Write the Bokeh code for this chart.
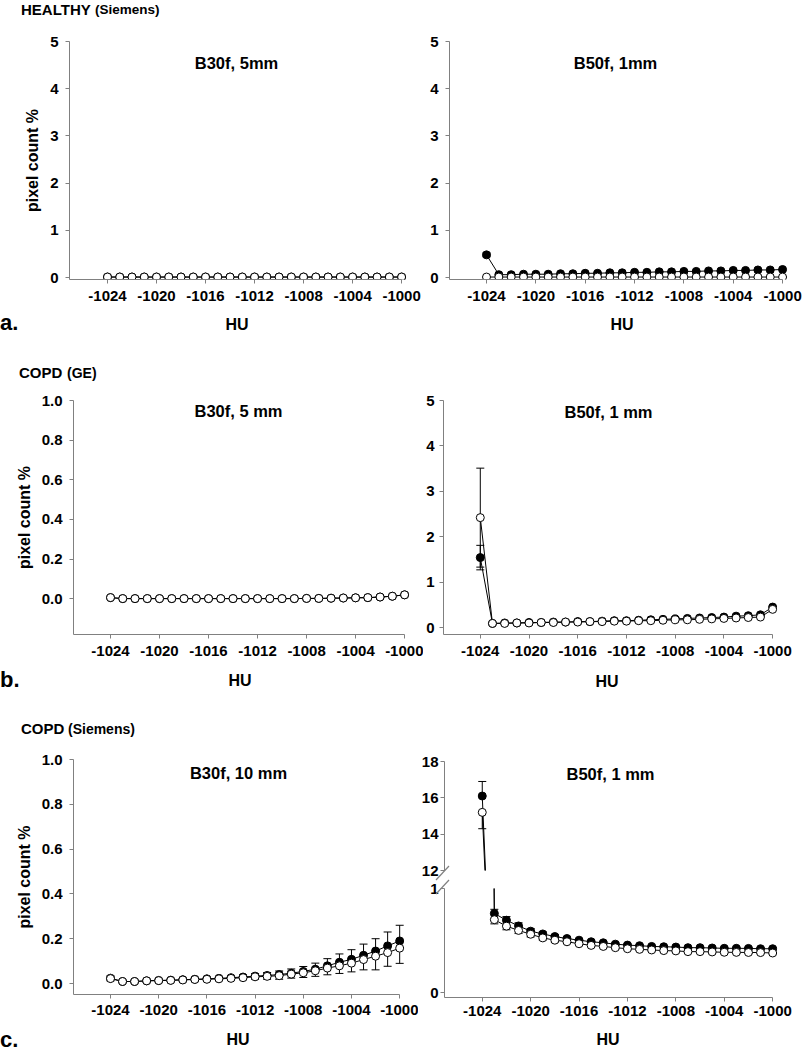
from bokeh.plotting import figure
from bokeh.models import (Range1d, FixedTicker, Whisker, TeeHead, Label,
                          ColumnDataSource, Div)
from bokeh.layouts import row, column
from bokeh.embed import file_html
from bokeh.resources import INLINE

# ---------------- data ----------------
HU = [-1024, -1023, -1022, -1021, -1020, -1019, -1018, -1017, -1016, -1015,
      -1014, -1013, -1012, -1011, -1010, -1009, -1008, -1007, -1006, -1005,
      -1004, -1003, -1002, -1001, -1000]
HU_TICKS = [-1024, -1020, -1016, -1012, -1008, -1004, -1000]
HU_TICK_LABELS = ["-1024", "-1020", "-1016", "-1012", "-1008", "-1004", "-1000"]

Y5_TICKS = [0, 1, 2, 3, 4, 5]
Y5_LABELS = ["0", "1", "2", "3", "4", "5"]
Y1_TICKS = [0.0, 0.2, 0.4, 0.6, 0.8, 1.0]
Y1_LABELS = ["0.0", "0.2", "0.4", "0.6", "0.8", "1.0"]
YUP_TICKS = [12, 14, 16, 18]
YUP_LABELS = ["12", "14", "16", "18"]
YLO_TICKS = [0, 1]
YLO_LABELS = ["0", "1"]

# a. HEALTHY (Siemens)
a_b30_filled = [0.01, 0.01, 0.01, 0.01, 0.01, 0.01, 0.01, 0.01, 0.01, 0.01,
                0.01, 0.01, 0.01, 0.01, 0.01, 0.01, 0.01, 0.01, 0.01, 0.01,
                0.01, 0.01, 0.01, 0.01, 0.01]
a_b30_open = [0.01, 0.01, 0.01, 0.01, 0.01, 0.01, 0.01, 0.01, 0.01, 0.01,
              0.01, 0.01, 0.01, 0.01, 0.01, 0.01, 0.01, 0.01, 0.01, 0.01,
              0.01, 0.01, 0.01, 0.01, 0.01]
a_b50_filled = [0.48, 0.06, 0.06, 0.07, 0.07, 0.07, 0.08, 0.08, 0.09, 0.09,
                0.10, 0.10, 0.11, 0.11, 0.12, 0.12, 0.13, 0.13, 0.14, 0.14,
                0.15, 0.15, 0.16, 0.16, 0.17]
a_b50_filled_err = [0.04, 0, 0, 0, 0, 0, 0, 0, 0, 0, 0, 0, 0, 0, 0, 0, 0, 0,
                    0, 0, 0, 0, 0, 0, 0]
a_b50_open = [0.01, 0.01, 0.01, 0.01, 0.01, 0.01, 0.01, 0.01, 0.01, 0.01,
              0.01, 0.01, 0.01, 0.01, 0.01, 0.01, 0.01, 0.01, 0.01, 0.01,
              0.01, 0.01, 0.01, 0.01, 0.01]

# b. COPD (GE)
b_b30_filled = [0.006, 0.001, 0.001, 0.001, 0.001, 0.001, 0.001, 0.001, 0.001,
                0.001, 0.001, 0.001, 0.001, 0.001, 0.001, 0.001, 0.002, 0.002,
                0.003, 0.004, 0.005, 0.006, 0.009, 0.013, 0.020]
b_b30_open = [0.006, 0.001, 0.001, 0.001, 0.001, 0.001, 0.001, 0.001, 0.001,
              0.001, 0.001, 0.001, 0.001, 0.001, 0.001, 0.001, 0.002, 0.002,
              0.003, 0.004, 0.005, 0.006, 0.009, 0.013, 0.020]
b_b50_filled = [1.54, 0.09, 0.10, 0.10, 0.11, 0.11, 0.12, 0.12, 0.13, 0.13,
                0.14, 0.15, 0.15, 0.16, 0.17, 0.18, 0.19, 0.20, 0.21, 0.22,
                0.23, 0.25, 0.26, 0.28, 0.45]
b_b50_filled_err = [0.27, 0, 0, 0, 0, 0, 0, 0, 0, 0, 0, 0, 0, 0, 0, 0, 0, 0,
                    0, 0, 0, 0, 0, 0, 0]
b_b50_open = [2.42, 0.09, 0.09, 0.10, 0.10, 0.11, 0.11, 0.12, 0.12, 0.13,
              0.13, 0.14, 0.14, 0.15, 0.15, 0.16, 0.17, 0.17, 0.18, 0.19,
              0.20, 0.21, 0.22, 0.23, 0.40]
b_b50_open_err = [1.09, 0, 0, 0, 0, 0, 0, 0, 0, 0, 0, 0, 0, 0, 0, 0, 0, 0,
                  0, 0, 0, 0, 0, 0, 0]

# c. COPD (Siemens)
c_b30_filled = [0.024, 0.009, 0.009, 0.012, 0.014, 0.015, 0.017, 0.019, 0.021,
                0.023, 0.026, 0.029, 0.033, 0.036, 0.040, 0.046, 0.054, 0.064,
                0.079, 0.095, 0.108, 0.126, 0.145, 0.168, 0.190]
c_b30_filled_err = [0.010, 0.004, 0.004, 0.004, 0.005, 0.005, 0.005, 0.006,
                    0.006, 0.007, 0.008, 0.009, 0.011, 0.013, 0.016, 0.019,
                    0.022, 0.027, 0.032, 0.037, 0.043, 0.050, 0.055, 0.062,
                    0.070]
c_b30_open = [0.022, 0.009, 0.009, 0.012, 0.013, 0.014, 0.016, 0.018, 0.019,
              0.021, 0.023, 0.026, 0.030, 0.032, 0.035, 0.042, 0.048, 0.057,
              0.069, 0.079, 0.091, 0.107, 0.122, 0.138, 0.158]
c_b30_open_err = [0.010, 0.004, 0.004, 0.004, 0.005, 0.005, 0.005, 0.006,
                  0.006, 0.007, 0.008, 0.009, 0.011, 0.013, 0.016, 0.018,
                  0.021, 0.025, 0.030, 0.034, 0.039, 0.046, 0.061, 0.061,
                  0.068]
c_b50_filled = [16.1, 0.76, 0.695, 0.64, 0.59, 0.563, 0.538, 0.519, 0.503,
                0.488, 0.478, 0.465, 0.456, 0.45, 0.443, 0.44, 0.437, 0.431,
                0.431, 0.428, 0.425, 0.425, 0.424, 0.421, 0.421]
c_b50_filled_err = [0.8, 0.04, 0.035, 0.03, 0.025, 0.02, 0.018, 0.016, 0.015,
                    0.014, 0.013, 0.012, 0.012, 0.011, 0.011, 0.010, 0.010,
                    0.010, 0.010, 0.010, 0.010, 0.010, 0.010, 0.010, 0.010]
c_b50_open = [15.2, 0.70, 0.638, 0.597, 0.56, 0.525, 0.503, 0.488, 0.469,
              0.453, 0.443, 0.431, 0.421, 0.415, 0.409, 0.403, 0.40, 0.393,
              0.393, 0.39, 0.387, 0.386, 0.385, 0.384, 0.38]
c_b50_open_err = [0.9, 0.04, 0.035, 0.03, 0.025, 0.02, 0.018, 0.016, 0.015,
                  0.014, 0.013, 0.012, 0.012, 0.011, 0.011, 0.010, 0.010,
                  0.010, 0.010, 0.010, 0.010, 0.010, 0.010, 0.010, 0.010]

# ---------------- styling helpers ----------------
FONT = "Liberation Sans"
AXIS_COLOR = "#808080"
PAGE_W = 802


def make_fig(canvas, frame, xr, yr, yticks, ylabels, ylabel=None, show_x=True,
             y_standoff=7, x_standoff=7):
    cl, cr, ct, cb = canvas
    fl, fr, ft, fb = frame
    p = figure(width=cr - cl, height=cb - ct,
               min_border_left=fl - cl, min_border_right=cr - fr,
               min_border_top=ft - ct, min_border_bottom=cb - fb,
               x_range=Range1d(*xr), y_range=Range1d(*yr),
               x_axis_location="below" if show_x else None,
               output_backend="svg", toolbar_location=None)
    p.grid.visible = False
    p.outline_line_color = None
    p.background_fill_color = "white"
    p.border_fill_color = "white"
    for ax in p.axis:
        ax.axis_line_color = AXIS_COLOR
        ax.axis_line_width = 1
        ax.major_tick_line_color = AXIS_COLOR
        ax.minor_tick_line_color = None
        ax.major_tick_in = 0
        ax.major_tick_out = 4
        ax.major_label_text_font = FONT
        ax.major_label_text_font_style = "bold"
        ax.major_label_text_font_size = "15px"
        ax.major_label_text_color = "black"
        ax.axis_label_text_font = FONT
        ax.axis_label_text_font_style = "bold"
        ax.axis_label_text_font_size = "16px"
        ax.axis_label_text_color = "black"
    if show_x:
        xa = p.xaxis[0]
        xa.ticker = FixedTicker(ticks=HU_TICKS)
        xa.major_label_overrides = dict(zip(HU_TICKS, HU_TICK_LABELS))
        xa.bounds = (xr[0], -1000)
        xa.major_label_standoff = x_standoff
    ya = p.yaxis[0]
    ya.ticker = FixedTicker(ticks=yticks)
    ya.major_label_overrides = dict(zip(yticks, ylabels))
    ya.bounds = (yr[0], yr[1])
    ya.major_label_standoff = y_standoff
    if ylabel:
        ya.axis_label = ylabel
        ya.axis_label_standoff = 6
    return p


def errbars(p, x, y, err, mode, ylim):
    xs, lo, hi = [], [], []
    for xi, yi, e in zip(x, y, err):
        if e <= 0 or not (ylim[0] <= yi <= ylim[1]):
            continue
        xs.append(xi)
        hi.append(yi + e if mode in ("up", "both") else yi)
        lo.append(yi - e if mode in ("down", "both") else yi)
    if not xs:
        return
    src = ColumnDataSource(dict(x=xs, lo=lo, hi=hi))
    w = Whisker(source=src, base="x", lower="lo", upper="hi",
                dimension="height", line_color="black", line_width=1,
                upper_head=TeeHead(size=8, line_color="black", line_width=1)
                if mode in ("up", "both") else None,
                lower_head=TeeHead(size=8, line_color="black", line_width=1)
                if mode in ("down", "both") else None)
    p.add_layout(w)


def series(p, x, y, filled):
    p.line(x, y, line_color="black", line_width=1)
    p.scatter(x, y, size=8, marker="circle", line_color="black",
              line_width=1, fill_color="black" if filled else "white")


def title(p, frame, text, X, Y):
    fl, fb = frame[0], frame[3]
    p.add_layout(Label(x=X - fl, y=fb - Y, x_units="screen", y_units="screen",
                       text=text, text_font=FONT, text_font_style="bold",
                       text_font_size="16.5px", text_align="center",
                       text_baseline="middle", text_color="black"))


def band(top, bottom, items, svg=""):
    """HTML strip holding texts that sit outside the plot frames.
    items: (text, x, y, size, align) in page pixels"""
    h = bottom - top
    spans = []
    for text, x, y, size, align in items:
        tx = "-50%" if align == "center" else "0"
        spans.append(
            f'<span style="position:absolute;left:{x}px;top:{y - top}px;'
            f'transform:translate({tx},-50%);font-size:{size};'
            f'white-space:nowrap;line-height:1;">{text}</span>')
    html = (f'<div style="position:relative;width:{PAGE_W}px;height:{h}px;'
            f"font-family:'Liberation Sans',Arial,sans-serif;font-weight:bold;"
            f'color:black;">{"".join(spans)}{svg}</div>')
    return Div(text=html, width=PAGE_W, height=h, margin=(0, 0, 0, 0),
               styles={"overflow": "visible"})


# ---------------- row a ----------------
hdrA = band(0, 28, [("HEALTHY", 21, 9, "15px", "left"),
                    ("(Siemens)", 95, 10, "13.5px", "left")])

A1c, A1f = (0, 421, 28, 310), (69, 406, 41, 279)
A1 = make_fig(A1c, A1f, (-1027.10, -999.6), (-0.042, 5.0), Y5_TICKS, Y5_LABELS,
              ylabel="pixel count %")
series(A1, HU, a_b30_filled, True)
series(A1, HU, a_b30_open, False)
title(A1, A1f, "B30f, 5mm", 236, 62)

A2c, A2f = (421, 802, 28, 310), (449, 787, 41, 279)
A2 = make_fig(A2c, A2f, (-1027.0, -999.6), (-0.042, 5.0), Y5_TICKS, Y5_LABELS)
errbars(A2, HU, a_b50_filled, a_b50_filled_err, "both", (-0.042, 5.0))
series(A2, HU, a_b50_filled, True)
series(A2, HU, a_b50_open, False)
title(A2, A2f, "B50f, 1mm", 615, 62)

ftrA = band(310, 352, [("a.", 0, 323, "22px", "left"),
                       ("HU", 237, 325, "16px", "center"),
                       ("HU", 622, 325, "16px", "center")])

# ---------------- row b ----------------
hdrB = band(352, 388, [("COPD", 19, 372, "15px", "left"),
                       ("(GE)", 67, 373, "14px", "left")])

B1c, B1f = (0, 423, 388, 668), (73, 409, 398, 634)
B1 = make_fig(B1c, B1f, (-1027.02, -999.6), (-0.18, 1.0), Y1_TICKS, Y1_LABELS,
              ylabel="pixel count %")
series(B1, HU, b_b30_filled, True)
series(B1, HU, b_b30_open, False)
title(B1, B1f, "B30f, 5 mm", 238, 410)

B2c, B2f = (423, 802, 388, 668), (441, 777, 400, 635)
B2 = make_fig(B2c, B2f, (-1027.02, -999.6), (-0.154, 5.0), Y5_TICKS, Y5_LABELS,
              y_standoff=5)
errbars(B2, HU, b_b50_filled, b_b50_filled_err, "both", (-0.154, 5.0))
errbars(B2, HU, b_b50_open, b_b50_open_err, "both", (-0.154, 5.0))
series(B2, HU, b_b50_filled, True)
series(B2, HU, b_b50_open, False)
title(B2, B2f, "B50f, 1 mm", 606, 412)

ftrB = band(668, 706, [("b.", 0, 680, "22px", "left"),
                       ("HU", 240, 681, "16px", "center"),
                       ("HU", 607, 682, "16px", "center")])

# ---------------- row c ----------------
hdrC = band(706, 745, [("COPD", 21, 728, "15px", "left"),
                       ("(Siemens)", 68, 729, "14px", "left")])

C1c, C1f = (0, 418, 745, 1023), (73, 404, 759, 994)
C1 = make_fig(C1c, C1f, (-1027.07, -999.6), (-0.049, 1.0), Y1_TICKS, Y1_LABELS,
              ylabel="pixel count %", x_standoff=6)
errbars(C1, HU, c_b30_filled, c_b30_filled_err, "up", (-0.049, 1.0))
errbars(C1, HU, c_b30_open, c_b30_open_err, "down", (-0.049, 1.0))
series(C1, HU, c_b30_filled, True)
series(C1, HU, c_b30_open, False)
title(C1, C1f, "B30f, 10 mm", 238, 772)

# broken axis: upper part 12..18, lower part 0..1
C2uc, C2uf = (418, 802, 745, 879), (442, 777, 761, 870)
C2u = make_fig(C2uc, C2uf, (-1027.12, -999.6), (12.0, 18.0), YUP_TICKS,
               YUP_LABELS, show_x=False, y_standoff=2)
errbars(C2u, HU, c_b50_filled, c_b50_filled_err, "up", (12.0, 18.0))
errbars(C2u, HU, c_b50_open, c_b50_open_err, "down", (12.0, 18.0))
series(C2u, HU, c_b50_filled, True)
series(C2u, HU, c_b50_open, False)
title(C2u, C2uf, "B50f, 1 mm", 608, 773)

C2lc, C2lf = (418, 802, 879, 1023), (442, 777, 888, 997)
C2l = make_fig(C2lc, C2lf, (-1027.12, -999.6), (-0.048, 1.0), YLO_TICKS,
               YLO_LABELS, y_standoff=2, x_standoff=4)
errbars(C2l, HU, c_b50_filled, c_b50_filled_err, "up", (-0.048, 1.0))
errbars(C2l, HU, c_b50_open, c_b50_open_err, "down", (-0.048, 1.0))
series(C2l, HU, c_b50_filled, True)
series(C2l, HU, c_b50_open, False)

# axis-break marks drawn as an overlay (page pixel coordinates)
FTR_C_TOP = 1023
BREAK_MARKS = [((436, 880), (449, 866)), ((436, 894), (449, 880))]
lines = "".join(
    f'<line x1="{a[0]}" y1="{a[1] - FTR_C_TOP + 300}" '
    f'x2="{b[0]}" y2="{b[1] - FTR_C_TOP + 300}" '
    f'stroke="{AXIS_COLOR}" stroke-width="1.2"/>'
    for a, b in BREAK_MARKS)
svg = (f'<svg width="{PAGE_W}" height="300" '
       f'style="position:absolute;left:0;top:-300px;overflow:visible;'
       f'z-index:10;pointer-events:none;">{lines}</svg>')

ftrC = band(FTR_C_TOP, 1050, [("c.", 0, 1040, "22px", "left"),
                              ("HU", 238, 1040, "16px", "center"),
                              ("HU", 608, 1040, "16px", "center")], svg=svg)

layout = column(hdrA, row(A1, A2), ftrA,
                hdrB, row(B1, B2), ftrB,
                hdrC, row(C1, column(C2u, C2l)), ftrC)

open("out.html", "w").write(file_html(layout, INLINE))
